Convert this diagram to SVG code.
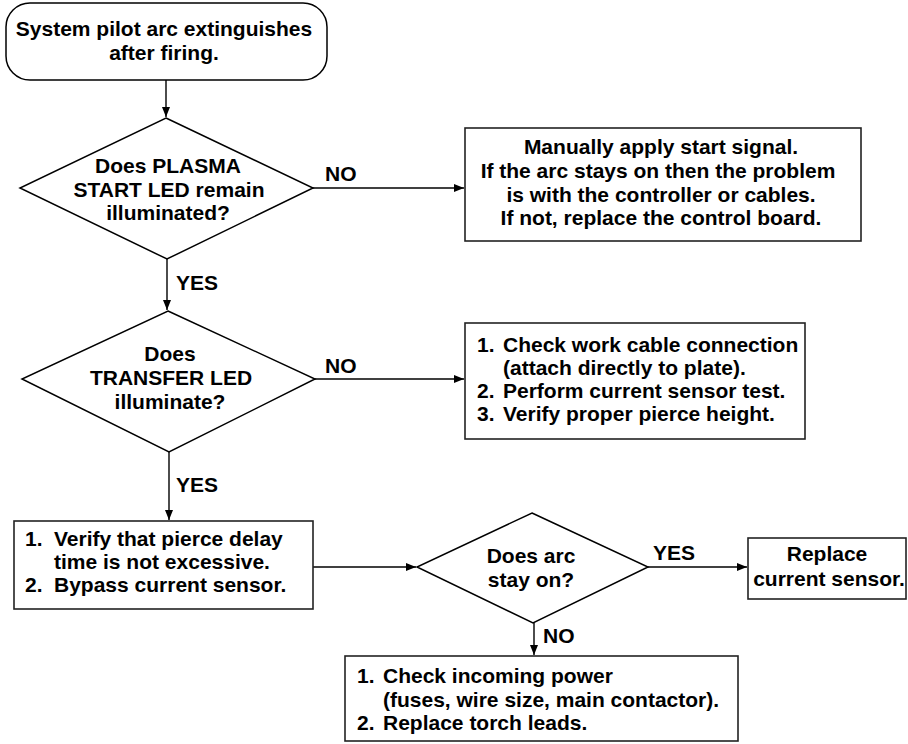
<svg xmlns="http://www.w3.org/2000/svg" width="908" height="744" viewBox="0 0 908 744">
<style>
text{font-family:"Liberation Sans",Arial,sans-serif;font-weight:bold;font-size:21px;fill:#000}
.c{text-anchor:middle}
.shape{fill:#fff;stroke:#000;stroke-width:1.5}
.box{fill:#fff;stroke:#222;stroke-width:1.6}
.edge{fill:none;stroke:#000;stroke-width:1.4}
</style>
<defs>
<marker id="arr" markerUnits="userSpaceOnUse" markerWidth="11" markerHeight="9" refX="10" refY="4" orient="auto">
<path d="M0,0 L10,4 L0,8 z" fill="#000"/>
</marker>
</defs>
<rect width="908" height="744" fill="#fff"/>
<g id="connectors">
<line class="edge" x1="166" y1="80" x2="166" y2="117" marker-end="url(#arr)"/>
<line class="edge" x1="313" y1="188" x2="464" y2="188" marker-end="url(#arr)"/>
<line class="edge" x1="167" y1="259" x2="167" y2="310" marker-end="url(#arr)"/>
<line class="edge" x1="315" y1="379" x2="464" y2="379" marker-end="url(#arr)"/>
<line class="edge" x1="169" y1="452" x2="169" y2="520" marker-end="url(#arr)"/>
<line class="edge" x1="313" y1="567" x2="416" y2="567" marker-end="url(#arr)"/>
<line class="edge" x1="648" y1="567" x2="747" y2="567" marker-end="url(#arr)"/>
<line class="edge" x1="534" y1="623" x2="534" y2="655" marker-end="url(#arr)"/>
<text x="325" y="181">NO</text>
<text x="176" y="290">YES</text>
<text x="325" y="373">NO</text>
<text x="176" y="492">YES</text>
<text x="653" y="560">YES</text>
<text x="543" y="643">NO</text>
</g>
<g id="start">
<rect class="shape" x="6" y="3" width="321" height="77" rx="24"/>
<text class="c" x="164" y="36">System pilot arc extinguishes</text>
<text class="c" x="164" y="60">after firing.</text>
</g>
<g id="d1">
<polygon class="shape" points="166,118 313,188 167,259 20,188"/>
<text class="c" x="168" y="173">Does PLASMA</text>
<text class="c" x="169" y="197">START LED remain</text>
<text class="c" x="168" y="220">illuminated?</text>
</g>
<g id="box1">
<rect class="box" x="465" y="128" width="396" height="113"/>
<text class="c" x="661" y="154">Manually apply start signal.</text>
<text class="c" x="658" y="178">If the arc stays on then the problem</text>
<text class="c" x="661" y="202">is with the controller or cables.</text>
<text class="c" x="661" y="225">If not, replace the control board.</text>
</g>
<g id="d2">
<polygon class="shape" points="168,311 315,379 169,452 22,379"/>
<text class="c" x="170" y="361">Does</text>
<text class="c" x="171" y="385">TRANSFER LED</text>
<text class="c" x="170" y="409">illuminate?</text>
</g>
<g id="box2">
<rect class="box" x="465" y="323" width="340" height="116"/>
<text x="477" y="352">1.</text>
<text x="503" y="352">Check work cable connection</text>
<text x="503" y="375">(attach directly to plate).</text>
<text x="477" y="398">2.</text>
<text x="503" y="398">Perform current sensor test.</text>
<text x="477" y="421">3.</text>
<text x="503" y="421">Verify proper pierce height.</text>
</g>
<g id="box3">
<rect class="box" x="14" y="521" width="299" height="88"/>
<text x="25" y="546">1.</text>
<text x="54" y="546">Verify that pierce delay</text>
<text x="54" y="569">time is not excessive.</text>
<text x="25" y="592">2.</text>
<text x="54" y="592">Bypass current sensor.</text>
</g>
<g id="d3">
<polygon class="shape" points="532,513 648,567 533,623 417,567"/>
<text class="c" x="531" y="563">Does arc</text>
<text class="c" x="531" y="587">stay on?</text>
</g>
<g id="box4">
<rect class="box" x="748" y="538" width="158" height="61"/>
<text class="c" x="827" y="561">Replace</text>
<text class="c" x="829" y="586">current sensor.</text>
</g>
<g id="box5">
<rect class="box" x="345" y="656" width="393" height="85"/>
<text x="357" y="683">1.</text>
<text x="383" y="683">Check incoming power</text>
<text x="383" y="707">(fuses, wire size, main contactor).</text>
<text x="357" y="730">2.</text>
<text x="383" y="730">Replace torch leads.</text>
</g>
</svg>
